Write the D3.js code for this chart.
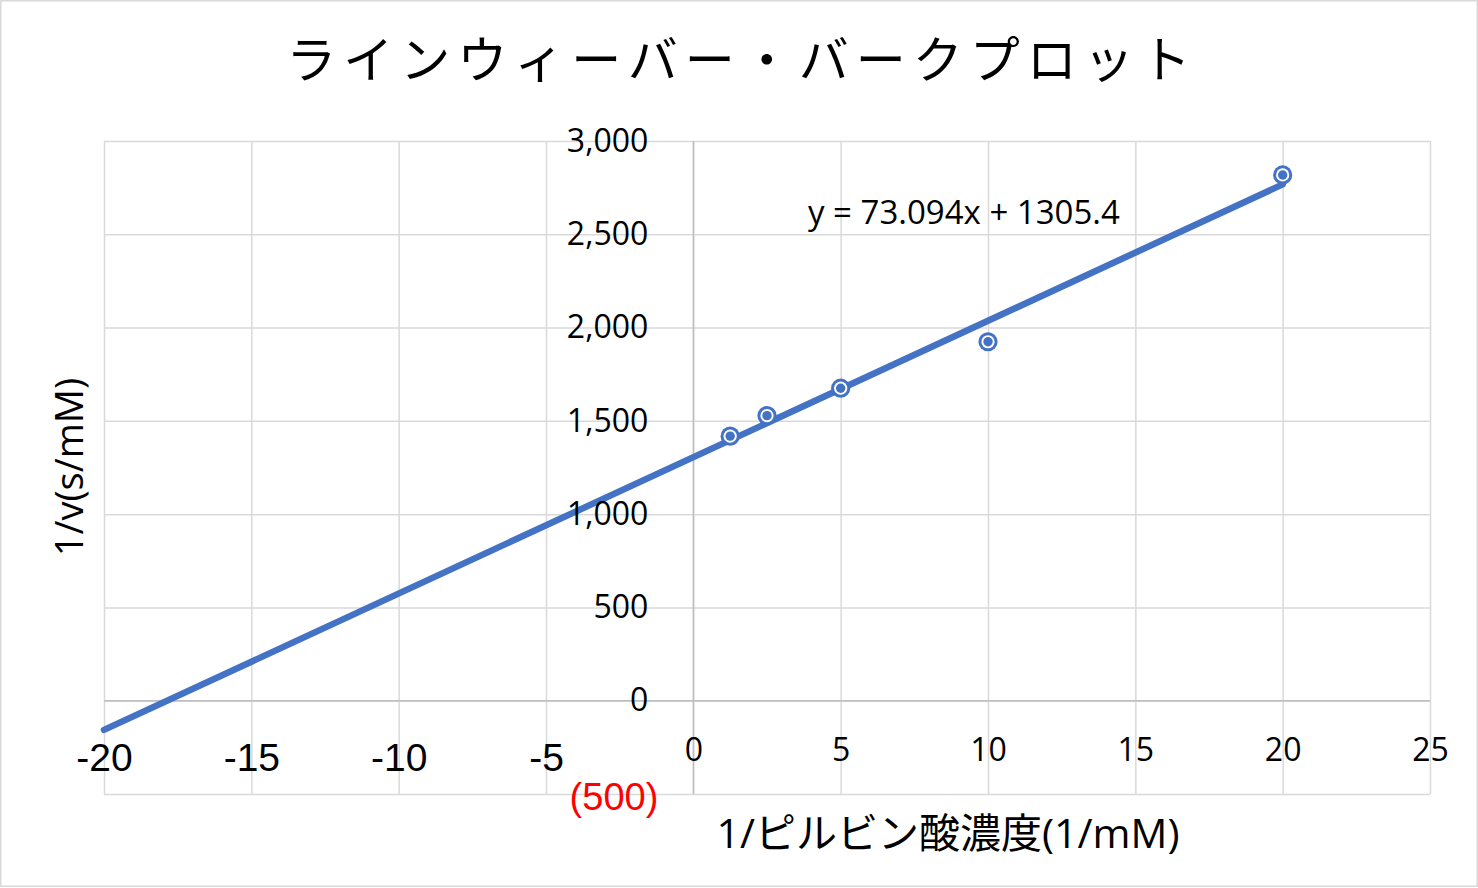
<!DOCTYPE html>
<html>
<head>
<meta charset="utf-8">
<script src="https://cdn.jsdelivr.net/npm/d3@7"></script>
<style>
	body { margin: 0; background: #fff; }
	.grid line { stroke: #d9d9d9; stroke-width: 1.5; }
	.grid path { display: none; }
</style>
</head>
<body>
<svg class="lb_chart" width="1478" height="888"></svg>
<script>
// reciprocal pyruvate concentration (1/mM) and reciprocal rate (s/mM)
var xValues = [1.25, 2.5, 5, 10, 20];
var yValues = [1418, 1528, 1675, 1924, 2818];

// linear trendline shown on the chart
var slope = 73.094;
var intercept = 1305.4;
var trendFrom = -20;
var trendTo = 20;

var xTicks = [-20, -15, -10, -5, 0, 5, 10, 15, 20, 25];
var yTicks = [-500, 0, 500, 1000, 1500, 2000, 2500, 3000];

var title = "ラインウィーバー・バークプロット";
var xTitle = "1/ピルビン酸濃度(1/mM)";
var yTitle = "1/v(s/mM)";
var equation = "y = " + slope + "x + " + intercept;

var svg = d3.select(".lb_chart");
var blue = "#4472c4";
var latin = "'Open Sans', 'Noto Sans CJK JP', sans-serif";
var arial = "'Liberation Sans', Arial, sans-serif";

svg.append("rect")
	.attr("x", 0.75).attr("y", 0.75)
	.attr("width", 1476.5).attr("height", 885.5)
	.attr("fill", "#fff")
	.attr("stroke", "#d9d9d9")
	.attr("stroke-width", 1.5);

var x = d3.scaleLinear().domain([-20, 25]).range([104, 1430]);
var y = d3.scaleLinear().domain([-500, 3000]).range([794, 141]);

// gridlines
svg.append("g")
	.attr("class", "grid")
	.attr("transform", "translate(0,794)")
	.call(d3.axisBottom(x).tickValues(xTicks).tickSize(-653).tickFormat(""));
svg.append("g")
	.attr("class", "grid")
	.attr("transform", "translate(104,0)")
	.call(d3.axisLeft(y).tickValues(yTicks).tickSize(-1326).tickFormat(""));

// zero axes are a little darker
svg.append("line")
	.attr("x1", x(0)).attr("x2", x(0))
	.attr("y1", y(3000)).attr("y2", y(-500))
	.attr("stroke", "#bfbfbf").attr("stroke-width", 1.5);
svg.append("line")
	.attr("x1", x(-20)).attr("x2", x(25))
	.attr("y1", y(0)).attr("y2", y(0))
	.attr("stroke", "#bfbfbf").attr("stroke-width", 1.5);

// trendline
var line = d3.line()
	.x((d) => { return x(d); })
	.y((d) => { return y(slope * d + intercept); });

svg.append("path")
	.datum([trendFrom, trendTo])
	.attr("d", line)
	.attr("fill", "none")
	.attr("stroke", blue)
	.attr("stroke-width", 6.5)
	.attr("stroke-linecap", "round");

// markers
var points = xValues.map((v, i) => { return {x: v, y: yValues[i]}; });
var marker = svg.selectAll(".marker")
	.data(points)
	.enter().append("g")
		.attr("class", "marker")
		.attr("transform", (d) => { return "translate(" + x(d.x) + "," + y(d.y) + ")"; });
marker.append("circle").attr("r", 9.6).attr("fill", blue);
marker.append("circle").attr("r", 6.6).attr("fill", "#fff");
marker.append("circle").attr("r", 4.7).attr("fill", blue);

// y tick labels, sitting beside the x = 0 axis
var fmt = d3.format(",");
var yAxis = svg.append("g")
	.attr("transform", "translate(" + x(0) + ",0)")
	.call(d3.axisLeft(y).tickValues(yTicks).tickSize(0).tickPadding(45)
		.tickFormat((d) => { return d < 0 ? "(" + fmt(-d) + ")" : fmt(d); }));
yAxis.select(".domain").remove();
yAxis.selectAll("text")
	.style("font-family", latin)
	.style("font-size", "32px")
	.attr("fill", "#000");
yAxis.selectAll("text")
	.filter((d) => { return d < 0; })
	.attr("fill", "#ff0000")
	.attr("dx", 10)
	.attr("dy", "0.42em")
	.style("font-family", arial)
	.style("font-size", "38px");

// x tick labels, sitting under the y = 0 axis
var xAxis = svg.append("g")
	.attr("transform", "translate(0," + y(0) + ")")
	.call(d3.axisBottom(x).tickValues(xTicks).tickSize(0)
		.tickFormat((d) => { return String(d); }));
xAxis.select(".domain").remove();
xAxis.selectAll("text")
	.attr("fill", "#000")
	.attr("y", (d) => { return d < 0 ? 57 : 49; })
	.attr("dy", "0.35em")
	.style("font-family", (d) => { return d < 0 ? arial : latin; })
	.style("font-size", (d) => { return d < 0 ? "39px" : "32px"; });

// equation label
svg.append("text")
	.attr("x", 808)
	.attr("y", y(2500) - 22)
	.attr("dy", "0.35em")
	.style("font-family", latin)
	.style("font-size", "33px")
	.text(equation);

// titles
svg.append("text")
	.attr("x", 742)
	.attr("y", 60)
	.attr("dy", "0.35em")
	.attr("text-anchor", "middle")
	.style("font-family", "'Noto Sans CJK JP', sans-serif")
	.style("font-size", "50px")
	.style("letter-spacing", "7px")
	.text(title);

svg.append("text")
	.attr("x", 948)
	.attr("y", 834)
	.attr("dy", "0.35em")
	.attr("text-anchor", "middle")
	.style("font-family", latin)
	.style("font-size", "41px")
	.text(xTitle);

svg.append("text")
	.attr("transform", "translate(70,467) rotate(-90)")
	.attr("dy", "0.35em")
	.attr("text-anchor", "middle")
	.style("font-family", latin)
	.style("font-size", "38px")
	.text(yTitle);
</script>
</body>
</html>
